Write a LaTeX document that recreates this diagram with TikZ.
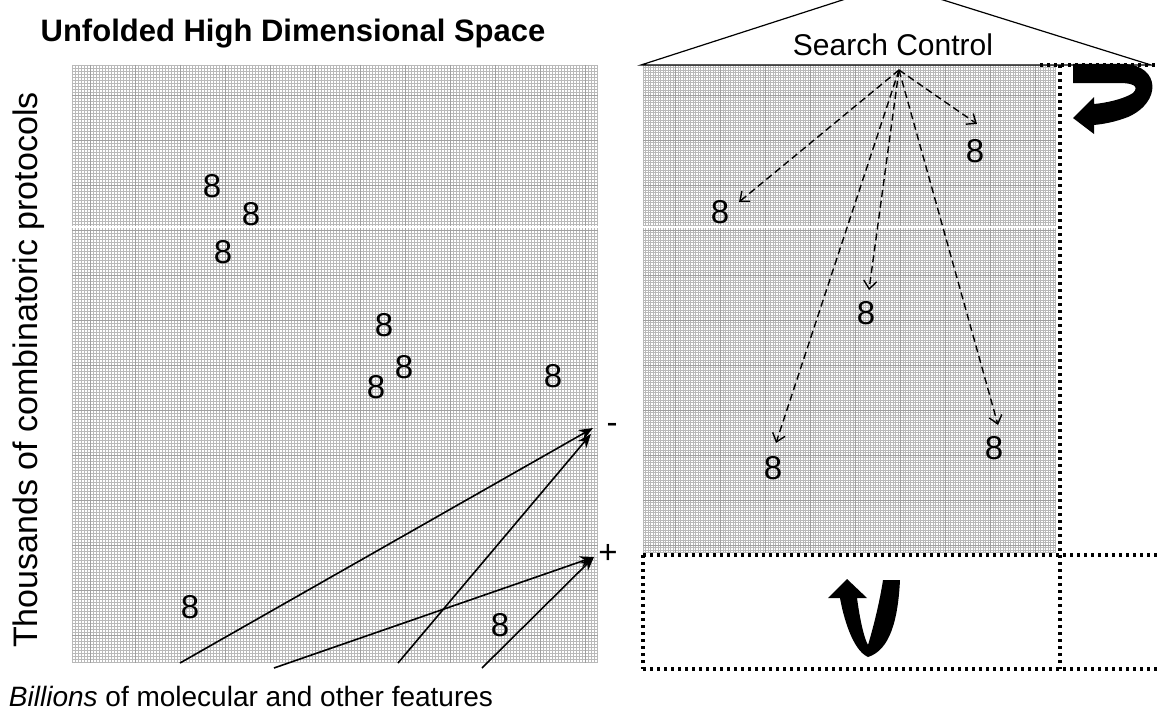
\documentclass[tikz,border=0pt]{standalone}
\usepackage{fontspec}
\setmainfont{Liberation Sans}
\usetikzlibrary{arrows.meta}

\newcommand\digitfont{\fontsize{33}{35}\selectfont}
\newcommand\axisfont{\fontsize{34}{36}\selectfont}

\tikzset{
  finegrid/.style={draw=gray!55, line width=0.4pt},
  coarsegrid/.style={draw=gray!75, line width=0.5pt},
  dig/.style={font=\digitfont, inner sep=1pt},
  pusharrow/.style={line width=1.6pt, -{Stealth[length=14pt,width=11pt]}},
  probe/.style={line width=1.4pt, dash pattern=on 7pt off 4pt,
                -{Straight Barb[length=8pt,width=13pt]}},
  dotbox/.style={line width=3.2pt, dash pattern=on 3.2pt off 3.8pt},
}

\begin{document}
\begin{tikzpicture}[x=1pt, y=-1pt]
  \useasboundingbox (0,0) rectangle (1159,717);
  \clip (0,0) rectangle (1159,717);

  % graph paper sheets
  \foreach \x in {72,75,...,598} \draw[finegrid] (\x,65) -- (\x,663);
  \foreach \y in {65,68,...,663} \draw[finegrid] (72,\y) -- (598,\y);
  \foreach \x in {90,135,...,598} \draw[coarsegrid] (\x,65) -- (\x,663);
  \foreach \y in {95,140,...,663} \draw[coarsegrid] (72,\y) -- (598,\y);
  \draw[white, line width=1.2pt] (72,227) -- (598,227);

  \foreach \x in {643,645.5,...,1056} \draw[finegrid] (\x,65) -- (\x,553);
  \foreach \y in {65,67.5,...,553} \draw[finegrid] (643,\y) -- (1056,\y);
  \foreach \x in {675,720,...,1056} \draw[coarsegrid] (\x,65) -- (\x,553);
  \foreach \y in {95,140,...,553} \draw[coarsegrid] (643,\y) -- (1056,\y);
  \draw[white, line width=1.2pt] (643,227) -- (1056,227);

  % labels
  \node[font=\bfseries\fontsize{31}{33}\selectfont, anchor=base] (title)
    at (293,42) {Unfolded High Dimensional Space};
  \node[font=\axisfont, anchor=base, rotate=90] (yaxis)
    at (37,370) {Thousands of combinatoric protocols};
  \node[font=\fontsize{28}{30}\selectfont, anchor=base] (xaxis)
    at (251,706) {\textit{Billions} of molecular and other features};

  % search control roof
  \draw[line width=1.2pt] (641,65) -- (892,-16) -- (1151,65) -- cycle;
  \node[font=\fontsize{30}{32}\selectfont] (ctltext) at (893,45) {Search Control};
  \coordinate (ctl) at (899,70);

  % dotted frames
  \draw[dotbox] (1060,65) -- (1060,669);
  \draw[dotbox] (1040,65) -- (1159,65);
  \draw[dotbox] (643,555) -- (1159,555);
  \draw[dotbox] (643,669) -- (1159,669);
  \draw[dotbox] (643,555) -- (643,669);

  % points in the unfolded space
  \node[dig] (p1) at (212,186) {8};
  \node[dig] (p2) at (251,214) {8};
  \node[dig] (p3) at (223,252) {8};
  \node[dig] (p4) at (384,325) {8};
  \node[dig] (p5) at (404,367) {8};
  \node[dig] (p6) at (376,387) {8};
  \node[dig] (p7) at (553,376) {8};
  \node[dig] (p8) at (190,607) {8};
  \node[dig] (p9) at (500,625) {8};

  % points reached by search control
  \node[dig] (q1) at (975,151) {8};
  \node[dig] (q2) at (720,212) {8};
  \node[dig] (q3) at (866,313) {8};
  \node[dig] (q4) at (994,448) {8};
  \node[dig] (q5) at (773,468) {8};

  % gradient arrows
  \node[font=\digitfont] (minus) at (612,428) {-};
  \node[font=\digitfont] (plus) at (608,554) {+};
  \coordinate (m1) at (593,428);
  \coordinate (m2) at (591,434);
  \coordinate (pl) at (594,557);
  \coordinate (s1) at (180,663);
  \coordinate (s2) at (398,663);
  \coordinate (s3) at (274,668);
  \coordinate (s4) at (482,668);
  \draw[pusharrow] (s1) -- (m1);
  \draw[pusharrow] (s2) -- (m2);
  \draw[pusharrow] (s3) -- (pl);
  \draw[pusharrow] (s4) -- (pl);

  % search probes
  \coordinate (t1) at (977,124);
  \coordinate (t2) at (739,202);
  \coordinate (t3) at (869,290);
  \coordinate (t4) at (998,425);
  \coordinate (t5) at (776,443);
  \foreach \t in {t1,t2,t3,t4,t5}
    \draw[probe] (ctl) -- (\t);

  % turning arrows
  \fill (1073,64) -- (1125,64) .. controls (1160,66) and (1162,102) .. (1128,117)
    .. controls (1115,122) and (1104,124) .. (1094,125) -- (1094,134) -- (1073,118)
    -- (1094,97) -- (1094,104) .. controls (1106,103) and (1124,99) .. (1133,93)
    .. controls (1140,86) and (1132,83) .. (1120,83) -- (1073,83) -- cycle;
  \fill (847,579) -- (867,598) -- (857,598) .. controls (860,620) and (864,638) .. (868,645)
    .. controls (874,625) and (880,600) .. (883,580) -- (900,580)
    .. controls (898,620) and (890,650) .. (868,657)
    .. controls (852,650) and (843,615) .. (840,598) -- (828,598) -- cycle;
\end{tikzpicture}
\end{document}
